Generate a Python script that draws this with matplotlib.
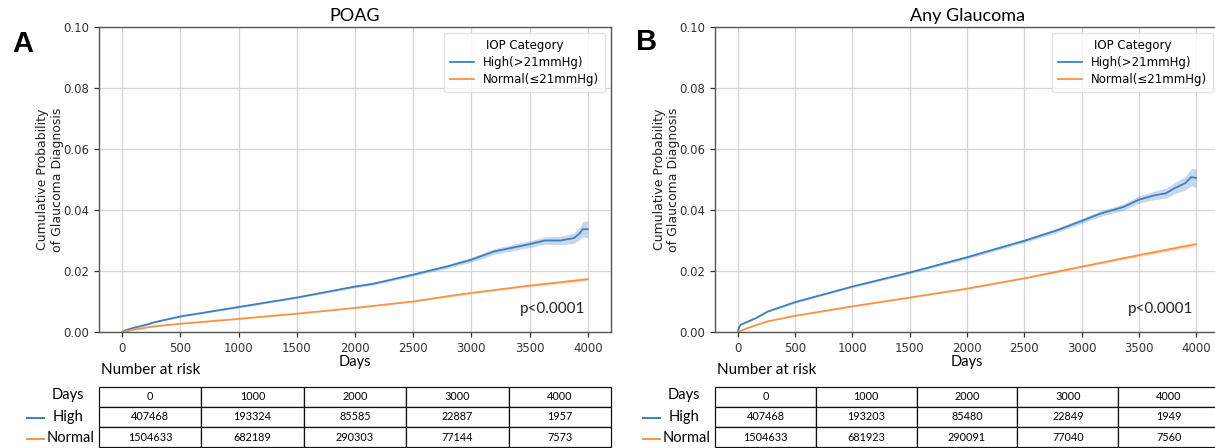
import matplotlib
matplotlib.use("Agg")
import matplotlib.pyplot as plt
from matplotlib.lines import Line2D
import numpy as np

# ---------------- data ----------------
panel_titles = ["POAG", "Any Glaucoma"]
panel_letters = ["A", "B"]
legend_labels = ["High(>21mmHg)", "Normal(\u226421mmHg)"]
ylabel_lines = ["Cumulative Probability", "of Glaucoma Diagnosis"]

A_high_days = [0, 30, 100, 208, 275, 500, 1000, 1500, 2000, 2154, 2500, 2792, 3000,
               3195, 3500, 3631, 3765, 3882, 3933, 3956, 4000]
A_high = [0, 0.0006, 0.0014, 0.0024, 0.0032, 0.0051, 0.0082, 0.0113, 0.0149, 0.0158,
          0.0188, 0.0215, 0.0237, 0.0264, 0.0288, 0.0300, 0.0300, 0.0308, 0.0324,
          0.0337, 0.0337]
A_high_ci = [0, 0.0001, 0.0002, 0.0002, 0.0002, 0.0002, 0.0003, 0.0003, 0.0004, 0.0004,
             0.0005, 0.0006, 0.0008, 0.0009, 0.0011, 0.0012, 0.0014, 0.0017, 0.0020,
             0.0025, 0.0028]
A_normal_days = [0, 100, 275, 500, 1000, 1500, 2000, 2500, 2792, 3000, 3500, 4000]
A_normal = [0, 0.0008, 0.00185, 0.0027, 0.0043, 0.0060, 0.0079, 0.0100, 0.0117,
            0.0128, 0.0152, 0.0173]
A_normal_ci = [0, 0.0001, 0.0001, 0.0001, 0.0001, 0.0001, 0.0002, 0.0002, 0.0003,
               0.0003, 0.0004, 0.0006]

B_high_days = [0, 10, 24, 159, 260, 500, 1000, 1500, 2000, 2500, 2790, 3000, 3163,
               3366, 3501, 3636, 3738, 3805, 3906, 3957, 4000]
B_high = [0, 0.0015, 0.0024, 0.0046, 0.0067, 0.0098, 0.0149, 0.0195, 0.0245, 0.0299,
          0.0334, 0.0364, 0.0388, 0.0410, 0.0434, 0.0448, 0.0455, 0.0470, 0.0488,
          0.0508, 0.0505]
B_high_ci = [0, 0.0002, 0.0002, 0.0002, 0.0002, 0.0003, 0.0003, 0.0004, 0.0005, 0.0006,
             0.0007, 0.0008, 0.0009, 0.0010, 0.0012, 0.0014, 0.0016, 0.0018, 0.0022,
             0.0028, 0.0030]
B_normal_days = [0, 100, 260, 500, 1000, 1500, 2000, 2500, 3000, 3501, 4000]
B_normal = [0, 0.0015, 0.0035, 0.0053, 0.0084, 0.0113, 0.0142, 0.0176, 0.0214,
            0.0252, 0.0288]
B_normal_ci = [0, 0.0001, 0.0001, 0.0001, 0.0002, 0.0002, 0.0002, 0.0003, 0.0004,
               0.0005, 0.0007]

risk_days = [0, 1000, 2000, 3000, 4000]
A_risk_high = [407468, 193324, 85585, 22887, 1957]
A_risk_normal = [1504633, 682189, 290303, 77144, 7573]
B_risk_high = [407468, 193203, 85480, 22849, 1949]
B_risk_normal = [1504633, 681923, 290091, 77040, 7560]
risk_row_labels = ["Days", "High", "Normal"]

xticks = [0, 500, 1000, 1500, 2000, 2500, 3000, 3500, 4000]
yticks = [0.00, 0.02, 0.04, 0.06, 0.08, 0.10]
p_text = "p<0.0001"

# ---------------- style ----------------
BLUE = "#3f7fc2"
ORANGE = "#f79448"
HUM = ["Lato", "DejaVu Sans"]

W, H = 1215, 448
fig = plt.figure(figsize=(W / 100, H / 100), dpi=100)

def fx(px):
    return px / W

def fy(py):
    return 1 - py / H

panels = [
    dict(ax=(99, 27, 611, 332), letter_xy=(12, 52), lab_x=68, line_x=(27, 44),
         high=(A_high_days, A_high, A_high_ci), normal=(A_normal_days, A_normal, A_normal_ci),
         risk=(A_risk_high, A_risk_normal), ylab_x=(43, 57)),
    dict(ax=(715, 27, 1219, 332), letter_xy=(636, 50), lab_x=684, line_x=(643, 660),
         high=(B_high_days, B_high, B_high_ci), normal=(B_normal_days, B_normal, B_normal_ci),
         risk=(B_risk_high, B_risk_normal), ylab_x=(659, 673)),
]

for i, p in enumerate(panels):
    l, t, r, b = p["ax"]
    ax = fig.add_axes([fx(l), fy(b), (r - l) / W, (b - t) / H])
    for (days, vals, ci), col, lab in [(p["high"], BLUE, legend_labels[0]),
                                       (p["normal"], ORANGE, legend_labels[1])]:
        d = np.array(days)
        v = np.array(vals)
        c = np.array(ci)
        ax.fill_between(d, v - c, v + c, color=col, alpha=0.3, lw=0)
        ax.plot(d, v, color=col, lw=1.3, label=lab)
    ax.set_xlim(-200, 4200)
    ax.set_ylim(0, 0.1)
    ax.set_xticks(xticks)
    ax.set_yticks(yticks)
    ax.set_yticklabels([f"{v:.2f}" for v in yticks])
    ax.grid(True, color="#d6d6d6", lw=0.9)
    ax.set_axisbelow(True)
    for s in ax.spines.values():
        s.set_color("#555555")
        s.set_linewidth(1.0)
    ax.tick_params(labelsize=8.5, colors="#333333", length=3.5, width=0.9)
    ax.set_xlabel("Days", fontsize=10.5, family=HUM, labelpad=0)
    ax.set_title(panel_titles[i], fontsize=13, family=HUM, pad=4)
    leg = ax.legend(title="IOP Category", loc="upper right", fontsize=8.5,
                    title_fontsize=8.5, frameon=True, fancybox=True,
                    borderpad=0.5, labelspacing=0.35, handlelength=2.0)
    leg.get_frame().set_edgecolor("#dddddd")
    ax.text(3975, 0.0063, p_text, ha="right", va="baseline", fontsize=11, family=HUM,
            color="#222222")
    for k, line in enumerate(ylabel_lines):
        fig.text(fx(p["ylab_x"][k]), fy((t + b) / 2), line, rotation=90,
                 ha="center", va="center", fontsize=9, color="#222222")
    fig.text(fx(p["letter_xy"][0]), fy(p["letter_xy"][1]), panel_letters[i],
             fontsize=21, fontweight="bold", family="Liberation Sans", ha="left",
             va="baseline")

    # number-at-risk table
    fig.text(fx(l + 2), fy(374), "Number at risk", fontsize=11, family=HUM,
             ha="left", va="baseline")
    tax = fig.add_axes([fx(l), fy(447), (r - l) / W, 60 / H])
    tax.axis("off")
    rh, rn = p["risk"]
    cells = [[str(v) for v in risk_days], [str(v) for v in rh], [str(v) for v in rn]]
    tbl = tax.table(cellText=cells, bbox=[0, 0, 1, 1], cellLoc="center")
    tbl.auto_set_font_size(False)
    for (rr, cc), cell in tbl.get_celld().items():
        cell.set_edgecolor("#111111")
        cell.set_linewidth(0.9)
        cell.get_text().set_fontsize(7.8)
        cell.get_text().set_family(HUM)
    row_y = [395, 417, 438]
    for k, name in enumerate(risk_row_labels):
        xk = p["lab_x"] + (3 if k == 2 else 0)
        fig.text(fx(xk), fy(row_y[k]), name, fontsize=10.5, family=HUM,
                 ha="center", va="center")
    for k, col in [(1, BLUE), (2, ORANGE)]:
        x0, x1 = p["line_x"]
        fig.add_artist(Line2D([fx(x0), fx(x1)], [fy(row_y[k] + 1)] * 2,
                              color=col, lw=1.5))

fig.savefig("out.png", dpi=100)
